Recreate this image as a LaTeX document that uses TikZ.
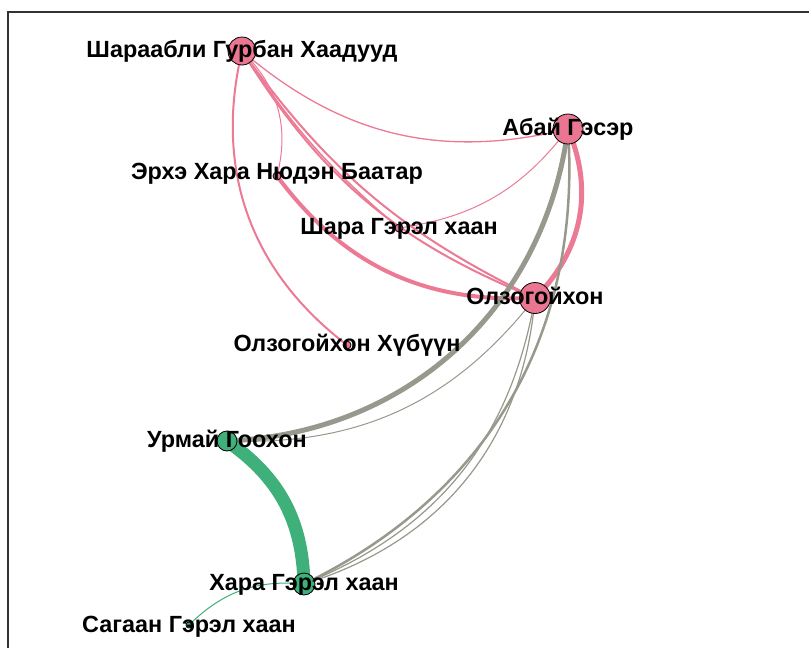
\documentclass[tikz,border=0pt]{standalone}
\usepackage{fontspec}
\setmainfont{Liberation Sans}
\definecolor{pinkE}{RGB}{236,122,148}
\definecolor{pinkN}{RGB}{234,118,145}
\definecolor{grayE}{RGB}{152,152,140}
\definecolor{greenE}{RGB}{64,176,122}
\definecolor{frameC}{RGB}{50,50,50}
\tikzset{
  pk/.style={draw=pinkE},
  gr/.style={draw=grayE},
  gn/.style={draw=greenE},
  vtx/.style={circle,draw=black,line width=0.8pt,inner sep=0pt},
  pinkv/.style={vtx,fill=pinkN},
  greenv/.style={vtx,fill=greenE},
  lab/.style={anchor=base,inner sep=0pt,font=\fontsize{23.4}{28}\selectfont\bfseries}
}
\begin{document}
\begin{tikzpicture}[x=1pt,y=1pt]
\useasboundingbox (0,0) rectangle (809,-648);
\fill[white] (0,0) rectangle (809,-648);
\draw[frameC,line width=2pt] (8,-660) -- (8,-12) -- (820,-12);
% centres
\coordinate (sh) at (242,-51);
\coordinate (ab) at (568,-129);
\coordinate (er) at (277,-176);
\coordinate (sg) at (399,-228);
\coordinate (ol) at (535,-298);
\coordinate (ob) at (347,-345);
\coordinate (ur) at (227,-441);
\coordinate (hg) at (304,-584);
\coordinate (sa) at (189,-625);
% pink edges
\draw[pk,line width=1.3pt] (sh) to[bend right=27] (ab);
\draw[pk,line width=1pt] (ab) to[bend left=22] (sg);
\draw[pk,line width=1pt] (sh) to[bend left=30] (er);
\draw[pk,line width=2pt] (sh) to[bend right=33] (ob);
\draw[pk,line width=1.5pt] (sh) to[bend right=8] (sg);
\draw[pk,line width=2pt] (sh) to[bend right=14] (ol);
\draw[pk,line width=2pt] (sh) to[bend right=18] (ol);
\draw[pk,line width=4pt] (er) to[bend right=28] (ol);
\draw[pk,line width=5pt] (ab) to[bend left=34] (ol);
% gray edges
\draw[gr,line width=5pt] (ab) to[bend left=40] (ur);
\draw[gr,line width=2.5pt] (ab) to[bend left=34] (hg);
\draw[gr,line width=1.2pt] (ol) to[bend left=29] (hg);
\draw[gr,line width=1.2pt] (ol) to[bend left=34] (hg);
\draw[gr,line width=1pt] (ol) to[bend left=27] (ur);
% green edges
\draw[gn,line width=13pt] (ur) to[bend left=27] (hg);
\draw[gn,line width=1pt] (hg) to[bend right=25] (sa);
% vertices
\node[pinkv,minimum size=28pt] (nsh) at (sh) {};
\node[pinkv,minimum size=30pt] (nab) at (ab) {};
\node[pinkv,minimum size=8pt] (ner) at (er) {};
\node[pinkv,minimum size=8pt] (nsg) at (sg) {};
\node[pinkv,minimum size=31pt] (nol) at (ol) {};
\node[pinkv,minimum size=8pt] (nob) at (ob) {};
\node[greenv,minimum size=20pt] (nur) at (ur) {};
\node[greenv,minimum size=22pt] (nhg) at (hg) {};
\node[greenv,minimum size=6pt] (nsa) at (sa) {};
% labels
\node[lab] (lsh) at ([yshift=-6pt]sh) {Шараабли Гурбан Хаадууд};
\node[lab] (lab1) at ([yshift=-6pt]ab) {Абай Гэсэр};
\node[lab] (ler) at ([yshift=-3pt]er) {Эрхэ Хара Нюдэн Баатар};
\node[lab] (lsg) at ([yshift=-6pt]sg) {Шара Гэрэл хаан};
\node[lab] (lol) at ([yshift=-6pt]ol) {Олзогойхон};
\node[lab] (lob) at ([yshift=-6pt]ob) {Олзогойхон Хүбүүн};
\node[lab] (lur) at ([yshift=-6pt]ur) {Урмай Гоохон};
\node[lab] (lhg) at ([yshift=-6pt]hg) {Хара Гэрэл хаан};
\node[lab] (lsa) at ([yshift=-7pt]sa) {Сагаан Гэрэл хаан};
\end{tikzpicture}
\end{document}
